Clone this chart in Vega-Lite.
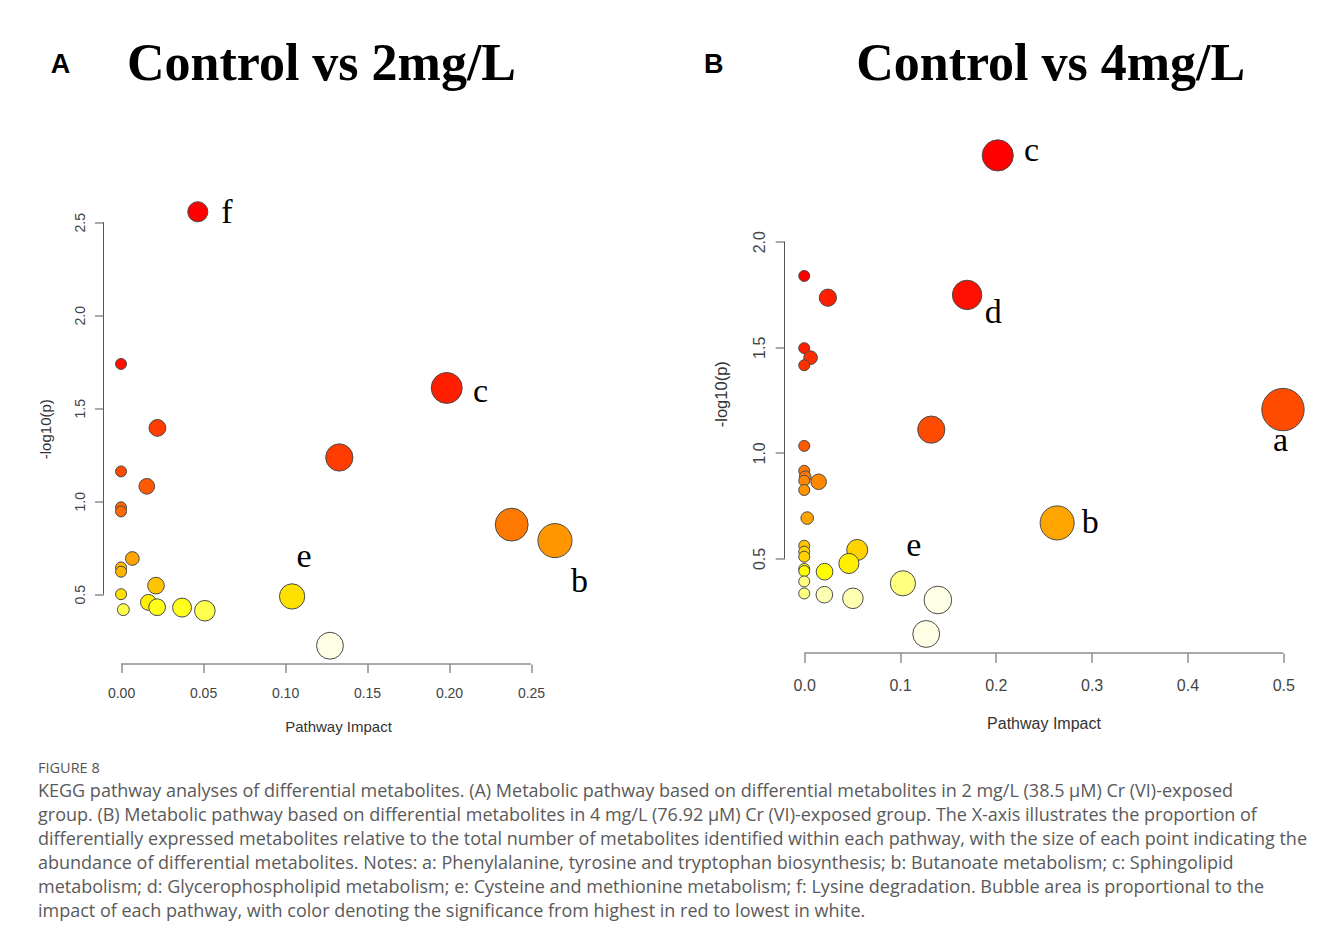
{
  "$schema": "https://vega.github.io/schema/vega-lite/v6.json",
  "padding": {"left": 37.5, "top": 37.5, "right": 5, "bottom": 5},
  "spacing": 114,
  "config": {"view": {"stroke": null}, "font": "Liberation Sans"},
  "title": {
    "text": "FIGURE 8",
    "subtitle": [
      "KEGG pathway analyses of differential metabolites. (A) Metabolic pathway based on differential metabolites in 2 mg/L (38.5 μM) Cr (VI)-exposed",
      "group. (B) Metabolic pathway based on differential metabolites in 4 mg/L (76.92 μM) Cr (VI)-exposed group. The X-axis illustrates the proportion of",
      "differentially expressed metabolites relative to the total number of metabolites identified within each pathway, with the size of each point indicating the",
      "abundance of differential metabolites. Notes: a: Phenylalanine, tyrosine and tryptophan biosynthesis; b: Butanoate metabolism; c: Sphingolipid",
      "metabolism; d: Glycerophospholipid metabolism; e: Cysteine and methionine metabolism; f: Lysine degradation. Bubble area is proportional to the",
      "impact of each pathway, with color denoting the significance from highest in red to lowest in white."
    ],
    "orient": "bottom",
    "anchor": "start",
    "offset": 27.5,
    "font": "Open Sans",
    "fontSize": 14.5,
    "fontWeight": "normal",
    "color": "#555555",
    "subtitleFont": "Open Sans",
    "subtitleFontSize": 18,
    "subtitleColor": "#5a5a5a",
    "subtitleLineHeight": 24,
    "subtitlePadding": 6
  },
  "hconcat": [
    {
      "width": 470,
      "height": 529.5,
      "layer": [
        {
          "data": {"values": [{}]},
          "mark": {"type": "rule", "color": "#555555", "strokeWidth": 1},
          "encoding": {
            "x": {"datum": -0.0107, "type": "quantitative", "scale": {"domain": [-0.0107, 0.2759], "zero": false, "nice": false}, "axis": null},
            "y": {"datum": 0.5, "type": "quantitative", "scale": {"domain": [0.1247, 2.9715], "zero": false, "nice": false}, "axis": null},
            "y2": {"datum": 2.5}
          }
        },
        {
          "data": {"values": [{}]},
          "mark": {"type": "rule", "color": "#555555", "strokeWidth": 1},
          "encoding": {
            "x": {"datum": 0, "type": "quantitative", "scale": {"domain": [-0.0107, 0.2759], "zero": false, "nice": false}, "axis": null},
            "x2": {"datum": 0.25},
            "y": {"datum": 0.1247, "type": "quantitative", "scale": {"domain": [0.1247, 2.9715], "zero": false, "nice": false}, "axis": null}
          }
        },
        {
          "data": {"values": [
            {"impact": 0.0468, "logp": 2.556},
            {"impact": 0, "logp": 1.738},
            {"impact": 0.1986, "logp": 1.609},
            {"impact": 0.0222, "logp": 1.394},
            {"impact": 0.1331, "logp": 1.235},
            {"impact": 0, "logp": 1.16},
            {"impact": 0.0157, "logp": 1.08},
            {"impact": 0, "logp": 0.967},
            {"impact": 0, "logp": 0.945},
            {"impact": 0.2382, "logp": 0.874},
            {"impact": 0.2646, "logp": 0.788},
            {"impact": 0.0069, "logp": 0.692},
            {"impact": 0, "logp": 0.644},
            {"impact": 0, "logp": 0.621},
            {"impact": 0.0213, "logp": 0.546},
            {"impact": 0, "logp": 0.5},
            {"impact": 0.1043, "logp": 0.488},
            {"impact": 0.0167, "logp": 0.456},
            {"impact": 0.022, "logp": 0.43},
            {"impact": 0.0372, "logp": 0.428},
            {"impact": 0.0014, "logp": 0.417},
            {"impact": 0.0511, "logp": 0.411},
            {"impact": 0.1274, "logp": 0.223}
          ]},
          "mark": {"type": "circle", "opacity": 1, "stroke": "#4a4a4a", "strokeWidth": 1},
          "encoding": {
            "x": {
              "field": "impact", "type": "quantitative",
              "scale": {"domain": [-0.0107, 0.2759], "zero": false, "nice": false},
              "axis": {
                "values": [0, 0.05, 0.1, 0.15, 0.2, 0.25], "format": ".2f",
                "domain": false, "grid": false,
                "tickColor": "#555555", "tickSize": 8.5, "tickWidth": 1,
                "labelFont": "Liberation Sans", "labelFontSize": 14, "labelColor": "#444444",
                "labelPadding": 13.9, "labelFlush": false, "labelOverlap": false, "labelBound": false,
                "title": "Pathway Impact", "titleFont": "Liberation Sans", "titleFontSize": 15,
                "titleFontWeight": "normal", "titleColor": "#333333",
                "titleX": 234.5, "titleY": 67.7, "titleAlign": "center", "titleBaseline": "alphabetic"
              }
            },
            "y": {
              "field": "logp", "type": "quantitative",
              "scale": {"domain": [0.1247, 2.9715], "zero": false, "nice": false},
              "axis": {
                "values": [0.5, 1, 1.5, 2, 2.5], "format": ".1f",
                "domain": false, "grid": false,
                "tickColor": "#555555", "tickSize": 9, "tickWidth": 1,
                "labelFont": "Liberation Sans", "labelFontSize": 14, "labelColor": "#444444",
                "labelAngle": 270, "labelAlign": "center", "labelBaseline": "alphabetic",
                "labelPadding": 10, "labelOverlap": false, "labelBound": false, "labelFlush": false,
                "title": "-log10(p)", "titleFont": "Liberation Sans", "titleFontSize": 15,
                "titleFontWeight": "normal", "titleColor": "#333333", "titleAngle": 270,
                "titleX": -58.5, "titleY": 294.2, "titleAlign": "center", "titleBaseline": "middle"
              }
            },
            "size": {
              "field": "impact", "type": "quantitative",
              "scale": {"type": "pow", "exponent": 0.75, "domain": [0, 0.2646], "range": [121, 1798]},
              "legend": null
            },
            "fill": {
              "field": "logp", "type": "quantitative",
              "scale": {"type": "quantile", "range": ["#FFFFE6", "#FFFFB3", "#FFFF80", "#FFFF4D", "#FFFF1A", "#FFFF00", "#FFF000", "#FFE100", "#FFD200", "#FFC300", "#FFB400", "#FFA500", "#FF9600", "#FF8700", "#FF7800", "#FF6900", "#FF5A00", "#FF4B00", "#FF3C00", "#FF2D00", "#FF1E00", "#FF0F00", "#FF0000"]},
              "legend": null
            }
          }
        },
        {
          "data": {"values": [
            {"label": "f", "x": 0.0646, "y": 2.497},
            {"label": "c", "x": 0.2192, "y": 1.531},
            {"label": "b", "x": 0.2796, "y": 0.51},
            {"label": "e", "x": 0.1116, "y": 0.644}
          ]},
          "mark": {"type": "text", "font": "Liberation Serif", "fontSize": 34, "align": "center", "baseline": "alphabetic", "color": "#000000"},
          "encoding": {
            "text": {"field": "label"},
            "x": {
              "field": "x", "type": "quantitative",
              "scale": {"domain": [-0.0107, 0.2759], "zero": false, "nice": false},
              "axis": {
                "orient": "top", "domain": false, "ticks": false, "labels": false, "grid": false,
                "title": "Control vs 2mg/L", "titleFont": "Liberation Serif", "titleFontSize": 52,
                "titleFontWeight": "bold", "titleColor": "#000000", "titleAngle": 0,
                "titleX": 217.5, "titleY": -54.8, "titleAlign": "center", "titleBaseline": "alphabetic"
              }
            },
            "y": {
              "field": "y", "type": "quantitative",
              "scale": {"domain": [0.1247, 2.9715], "zero": false, "nice": false},
              "axis": {
                "orient": "right", "domain": false, "ticks": false, "labels": false, "grid": false, "minExtent": 0,
                "title": "A", "titleFont": "Liberation Sans", "titleFontSize": 27,
                "titleFontWeight": "bold", "titleColor": "#000000", "titleAngle": 0,
                "titleX": -513.5, "titleY": -62.1, "titleAlign": "center", "titleBaseline": "alphabetic"
              }
            }
          }
        }
      ],
      "resolve": {"axis": {"x": "independent", "y": "independent"}}
    },
    {
      "width": 518.5,
      "height": 518.5,
      "layer": [
        {
          "data": {"values": [{}]},
          "mark": {"type": "rule", "color": "#555555", "strokeWidth": 1},
          "encoding": {
            "x": {"datum": -0.0206, "type": "quantitative", "scale": {"domain": [-0.0206, 0.5206], "zero": false, "nice": false}, "axis": null},
            "y": {"datum": 0.5, "type": "quantitative", "scale": {"domain": [0.0519, 2.508], "zero": false, "nice": false}, "axis": null},
            "y2": {"datum": 2.0}
          }
        },
        {
          "data": {"values": [{}]},
          "mark": {"type": "rule", "color": "#555555", "strokeWidth": 1},
          "encoding": {
            "x": {"datum": 0, "type": "quantitative", "scale": {"domain": [-0.0206, 0.5206], "zero": false, "nice": false}, "axis": null},
            "x2": {"datum": 0.5},
            "y": {"datum": 0.0519, "type": "quantitative", "scale": {"domain": [0.0519, 2.508], "zero": false, "nice": false}, "axis": null}
          }
        },
        {
          "data": {"values": [
            {"impact": 0.202, "logp": 2.409},
            {"impact": 0, "logp": 1.838},
            {"impact": 0.17, "logp": 1.748},
            {"impact": 0.0247, "logp": 1.735},
            {"impact": 0, "logp": 1.496},
            {"impact": 0.0066, "logp": 1.451},
            {"impact": 0, "logp": 1.415},
            {"impact": 0.4997, "logp": 1.205},
            {"impact": 0.1326, "logp": 1.11},
            {"impact": 0, "logp": 1.033},
            {"impact": 0, "logp": 0.915},
            {"impact": 0.001, "logp": 0.887},
            {"impact": 0, "logp": 0.868},
            {"impact": 0.015, "logp": 0.863},
            {"impact": 0, "logp": 0.824},
            {"impact": 0.0031, "logp": 0.691},
            {"impact": 0.264, "logp": 0.668},
            {"impact": 0, "logp": 0.56},
            {"impact": 0.0553, "logp": 0.54},
            {"impact": 0, "logp": 0.532},
            {"impact": 0, "logp": 0.508},
            {"impact": 0.0466, "logp": 0.476},
            {"impact": 0, "logp": 0.45},
            {"impact": 0, "logp": 0.44},
            {"impact": 0.0212, "logp": 0.437},
            {"impact": 0, "logp": 0.391},
            {"impact": 0.103, "logp": 0.382},
            {"impact": 0, "logp": 0.334},
            {"impact": 0.021, "logp": 0.328},
            {"impact": 0.0508, "logp": 0.311},
            {"impact": 0.1395, "logp": 0.303},
            {"impact": 0.1273, "logp": 0.142}
          ]},
          "mark": {"type": "circle", "opacity": 1, "stroke": "#4a4a4a", "strokeWidth": 1},
          "encoding": {
            "x": {
              "field": "impact", "type": "quantitative",
              "scale": {"domain": [-0.0206, 0.5206], "zero": false, "nice": false},
              "axis": {
                "values": [0, 0.1, 0.2, 0.3, 0.4, 0.5], "format": ".1f",
                "domain": false, "grid": false,
                "tickColor": "#555555", "tickSize": 9.4, "tickWidth": 1,
                "labelFont": "Liberation Sans", "labelFontSize": 16, "labelColor": "#444444",
                "labelPadding": 15.4, "labelFlush": false, "labelOverlap": false, "labelBound": false,
                "title": "Pathway Impact", "titleFont": "Liberation Sans", "titleFontSize": 16,
                "titleFontWeight": "normal", "titleColor": "#333333",
                "titleX": 259, "titleY": 75.2, "titleAlign": "center", "titleBaseline": "alphabetic"
              }
            },
            "y": {
              "field": "logp", "type": "quantitative",
              "scale": {"domain": [0.0519, 2.508], "zero": false, "nice": false},
              "axis": {
                "values": [0.5, 1, 1.5, 2], "format": ".1f",
                "domain": false, "grid": false,
                "tickColor": "#555555", "tickSize": 9.3, "tickWidth": 1,
                "labelFont": "Liberation Sans", "labelFontSize": 16, "labelColor": "#444444",
                "labelAngle": 270, "labelAlign": "center", "labelBaseline": "alphabetic",
                "labelPadding": 10.7, "labelOverlap": false, "labelBound": false, "labelFlush": false,
                "title": "-log10(p)", "titleFont": "Liberation Sans", "titleFontSize": 16.5,
                "titleFontWeight": "normal", "titleColor": "#333333", "titleAngle": 270,
                "titleX": -63.3, "titleY": 259.2, "titleAlign": "center", "titleBaseline": "middle"
              }
            },
            "size": {
              "field": "impact", "type": "quantitative",
              "scale": {"type": "pow", "exponent": 0.75, "domain": [0, 0.5], "range": [64, 1184]},
              "legend": null
            },
            "fill": {
              "field": "logp", "type": "quantitative",
              "scale": {"type": "quantile", "range": ["#FFFFEF", "#FFFFCF", "#FFFFAF", "#FFFF8F", "#FFFF70", "#FFFF50", "#FFFF30", "#FFFF10", "#FFFF00", "#FFF400", "#FFE900", "#FFDE00", "#FFD300", "#FFC800", "#FFBC00", "#FFB100", "#FFA600", "#FF9B00", "#FF9000", "#FF8500", "#FF7A00", "#FF6F00", "#FF6400", "#FF5900", "#FF4E00", "#FF4300", "#FF3700", "#FF2C00", "#FF2100", "#FF1600", "#FF0B00", "#FF0000"]},
              "legend": null
            }
          }
        },
        {
          "data": {"values": [
            {"label": "c", "x": 0.2373, "y": 2.382},
            {"label": "d", "x": 0.1973, "y": 1.617},
            {"label": "a", "x": 0.4971, "y": 1.0097},
            {"label": "b", "x": 0.2985, "y": 0.622},
            {"label": "e", "x": 0.1143, "y": 0.513}
          ]},
          "mark": {"type": "text", "font": "Liberation Serif", "fontSize": 34, "align": "center", "baseline": "alphabetic", "color": "#000000"},
          "encoding": {
            "text": {"field": "label"},
            "x": {
              "field": "x", "type": "quantitative",
              "scale": {"domain": [-0.0206, 0.5206], "zero": false, "nice": false},
              "axis": {
                "orient": "top", "domain": false, "ticks": false, "labels": false, "grid": false,
                "title": "Control vs 4mg/L", "titleFont": "Liberation Serif", "titleFontSize": 52,
                "titleFontWeight": "bold", "titleColor": "#000000", "titleAngle": 0,
                "titleX": 265.7, "titleY": -54.8, "titleAlign": "center", "titleBaseline": "alphabetic"
              }
            },
            "y": {
              "field": "y", "type": "quantitative",
              "scale": {"domain": [0.0519, 2.508], "zero": false, "nice": false},
              "axis": {
                "orient": "right", "domain": false, "ticks": false, "labels": false, "grid": false, "minExtent": 0,
                "title": "B", "titleFont": "Liberation Sans", "titleFontSize": 27,
                "titleFontWeight": "bold", "titleColor": "#000000", "titleAngle": 0,
                "titleX": -589.8, "titleY": -62.1, "titleAlign": "center", "titleBaseline": "alphabetic"
              }
            }
          }
        }
      ],
      "resolve": {"axis": {"x": "independent", "y": "independent"}}
    }
  ]
}
